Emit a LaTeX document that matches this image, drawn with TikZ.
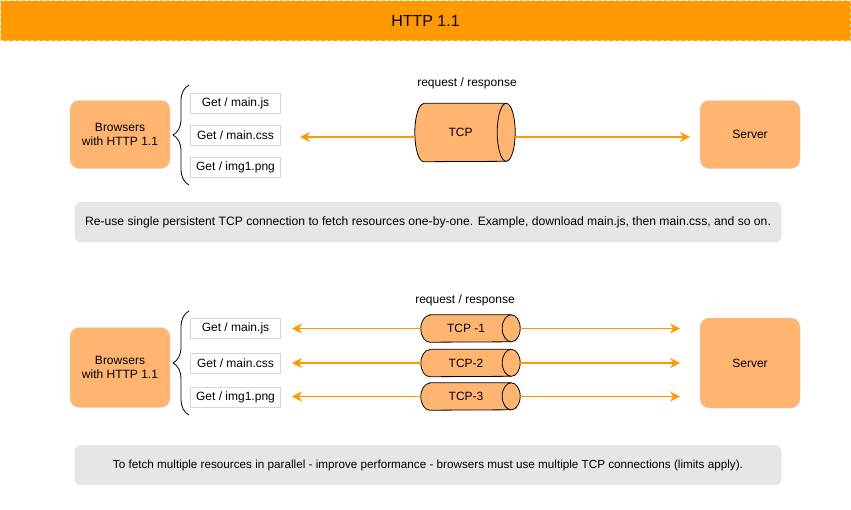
\documentclass[tikz,border=0pt]{standalone}
\usepackage{fontspec}
\setmainfont{Liberation Sans}
\usetikzlibrary{arrows.meta,decorations.pathreplacing,backgrounds}
\definecolor{orangeA}{HTML}{FF9900}
\definecolor{orangeB}{HTML}{FFB570}
\definecolor{dashC}{HTML}{FFD27F}
\definecolor{noteG}{HTML}{E6E6E6}
\definecolor{lineG}{HTML}{D6D6D6}
\newcommand\drawcyl[3]{%
  \filldraw[cylline] ([xshift=#2]#1.north west) -- (#1.north east)
     arc[start angle=90,end angle=-90,x radius=#2,y radius=#3]
     -- ([xshift=#2]#1.south west)
     arc[start angle=270,end angle=90,x radius=#2,y radius=#3] -- cycle;
  \draw[cylline] (#1.north east) arc[start angle=90,end angle=270,x radius=#2,y radius=#3];
}
\begin{document}
\begin{tikzpicture}[x=1pt,y=-1pt,
  every node/.style={font=\fontsize{12}{14}\selectfont, align=center, inner sep=0pt},
  titlebar/.style={fill=orangeA, draw=dashC, dashed, line width=1pt, minimum width=850pt, minimum height=40pt, font=\fontsize{16}{18}\selectfont},
  obox/.style={fill=orangeB, draw=lineG, rounded corners=9pt, minimum width=100pt},
  getbox/.style={fill=white, draw=lineG, minimum width=90pt, minimum height=20pt},
  tcpbody/.style={rectangle},
  cylline/.style={draw=black, line width=0.8pt, fill=orangeB},
  note/.style={fill=noteG, rounded corners=6pt, minimum width=707pt, minimum height=40pt},
  arr/.style={draw=orangeA, line width=1.8pt, -{Stealth[length=10pt,width=10pt]}},
  bracebr/.style={draw=black, line width=0.8pt, decorate, decoration={brace, amplitude=16pt}},
  lbl/.style={font=\fontsize{12}{14}\selectfont}
]
\useasboundingbox (0,0) rectangle (851,509);
\node[titlebar] (title) at (425.5,20.5) {HTTP 1.1};

% ---------- top ----------
\node[obox, minimum height=68pt] (br1) at (120,134.5) {Browsers\\with HTTP 1.1};
\node[getbox] (g1a) at (235.5,103) {Get / main.js};
\node[getbox] (g1b) at (235.5,135) {Get / main.css};
\node[getbox] (g1c) at (235.5,167) {Get / img1.png};
\draw[bracebr] (189,185) -- (189,85);
\node[lbl] (rr1) at (467,83) {request / response};
\node[tcpbody, minimum width=91pt, minimum height=58pt] (tcp1) at (460.5,132.5) {TCP};
\begin{pgfonlayer}{background}\drawcyl{tcp1}{9pt}{29pt}\end{pgfonlayer}
\coordinate (e1) at ([xshift=9pt]tcp1.east);
\node[obox, minimum height=68pt] (sv1) at (750,134.5) {Server};
\coordinate (l1) at (300,137);
\coordinate (r1) at (690,137);
\draw[arr] (tcp1.west |- l1) -- (l1);
\draw[arr] (e1 |- r1) -- (r1);
\node[note, font=\fontsize{12.15}{14}\selectfont] (n1) at (428,222) {Re-use single persistent TCP connection to fetch resources one-by-one. Example, download main.js, then main.css, and so on.};

% ---------- bottom ----------
\node[obox, minimum height=80pt] (br2) at (120,367.5) {Browsers\\with HTTP 1.1};
\node[getbox] (g2a) at (235.5,328) {Get / main.js};
\node[getbox] (g2b) at (235.5,363) {Get / main.css};
\node[getbox] (g2c) at (235.5,397) {Get / img1.png};
\draw[bracebr] (189,415) -- (189,311);
\node[lbl] (rr2) at (465,300) {request / response};
\node[tcpbody, minimum width=90pt, minimum height=27pt] (t21) at (466,328.5) {TCP -1};
\node[tcpbody, minimum width=90pt, minimum height=27pt] (t22) at (466,363) {TCP-2};
\node[tcpbody, minimum width=90pt, minimum height=27pt] (t23) at (466,396.5) {TCP-3};
\node[obox, minimum height=90pt] (sv2) at (750,363) {Server};
\coordinate (lx) at (292,0);
\coordinate (rx) at (680,0);
\foreach \t in {t21,t22,t23}{
  \begin{pgfonlayer}{background}\drawcyl{\t}{9pt}{13.5pt}\end{pgfonlayer}
  \coordinate (\t-e) at ([xshift=9pt]\t.east);
  \draw[arr] (\t.west) -- (\t.west -| lx);
  \draw[arr] (\t-e) -- (\t-e -| rx);
}
\node[note, font=\fontsize{11.7}{13}\selectfont] (n2) at (428,465) {To fetch multiple resources in parallel - improve performance - browsers must use multiple TCP connections (limits apply).};
\end{tikzpicture}
\end{document}
